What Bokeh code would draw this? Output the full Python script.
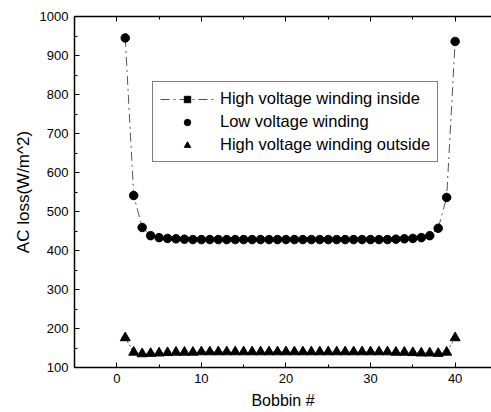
from bokeh.plotting import figure
from bokeh.models import Range1d, LinearAxis, Legend, LegendItem, ColumnDataSource, FixedTicker
from bokeh.embed import file_html
from bokeh.resources import INLINE

bobbin = list(range(1, 41))
hv_inside = [945, 541, 459, 438, 433, 431, 430, 429, 428, 428, 428, 428, 428, 428, 428, 428, 428, 428, 428, 428,
             428, 428, 428, 428, 428, 428, 428, 428, 428, 428, 428, 428, 429, 430, 431, 433, 438, 457, 536, 936]
low_voltage = [945, 541, 459, 438, 433, 431, 430, 429, 428, 428, 428, 428, 428, 428, 428, 428, 428, 428, 428, 428,
               428, 428, 428, 428, 428, 428, 428, 428, 428, 428, 428, 428, 429, 430, 431, 433, 438, 457, 536, 936]
hv_outside = [176, 139, 135, 136, 137, 138, 139, 139, 139, 140, 140, 140, 140, 140, 140, 140, 140, 140, 140, 140,
              140, 140, 140, 140, 140, 140, 140, 140, 140, 140, 140, 140, 139, 139, 138, 137, 137, 136, 139, 176]
x_ticks = [0, 10, 20, 30, 40]
x_minor = [-5, 5, 15, 25, 35, 45]
y_ticks = [100, 200, 300, 400, 500, 600, 700, 800, 900, 1000]
y_minor = [150, 250, 350, 450, 550, 650, 750, 850, 950]

FONT = "Liberation Sans"

p = figure(width=491, height=412, output_backend="svg", toolbar_location=None,
           x_range=Range1d(-5, 44.3), y_range=Range1d(100, 1000),
           min_border_left=74, min_border_right=0, min_border_top=16, min_border_bottom=45)
p.grid.visible = False
p.outline_line_color = None
p.background_fill_color = "white"
p.border_fill_color = "white"

p.xaxis[0].ticker = FixedTicker(ticks=x_ticks, minor_ticks=x_minor)
p.yaxis[0].ticker = FixedTicker(ticks=y_ticks, minor_ticks=y_minor)

for ax in (p.xaxis[0], p.yaxis[0]):
    ax.major_tick_in = 5
    ax.major_tick_out = 0
    ax.minor_tick_in = 3
    ax.minor_tick_out = 0
    ax.axis_line_color = "black"
    ax.axis_line_width = 1.5
    ax.major_tick_line_color = "black"
    ax.minor_tick_line_color = "black"
    ax.major_label_text_font = FONT
    ax.major_label_text_font_size = "13px"
    ax.major_label_text_color = "black"
    ax.axis_label_text_font = FONT
    ax.axis_label_text_font_style = "normal"
    ax.axis_label_text_color = "black"

p.xaxis.axis_label = "Bobbin #"
p.xaxis.axis_label_text_font_size = "16px"
p.xaxis.major_label_standoff = 6
p.xaxis.axis_label_standoff = 6
p.yaxis.axis_label = "AC loss(W/m^2)"
p.yaxis.axis_label_text_font_size = "17px"
p.yaxis.major_label_standoff = 6
p.yaxis.axis_label_standoff = 4

top = LinearAxis(ticker=FixedTicker(ticks=x_ticks, minor_ticks=x_minor))
top.major_tick_in = 5
top.major_tick_out = 0
top.minor_tick_in = 3
top.minor_tick_out = 0
top.major_label_text_font_size = "0px"
top.major_label_text_color = None
top.major_label_standoff = 0
top.axis_line_width = 1.5
top.axis_line_color = "black"
p.add_layout(top, "above")

src = ColumnDataSource(dict(x=bobbin, hvi=hv_inside, lv=low_voltage, hvo=hv_outside))

l1 = p.line("x", "hvi", source=src, line_color="#555555", line_width=1, line_dash="9 4 2 4")
s1 = p.scatter("x", "hvi", source=src, marker="square", size=5.5, color="black")
c1 = p.scatter("x", "lv", source=src, marker="circle", size=8.5, color="black")
l3 = p.line("x", "hvo", source=src, line_color="#555555", line_width=1, line_dash="2 2")
t1 = p.scatter("x", "hvo", source=src, marker="triangle", size=10, color="black")

legend = Legend(items=[
    LegendItem(label="High voltage winding inside", renderers=[l1, s1]),
    LegendItem(label="Low voltage winding", renderers=[c1]),
    LegendItem(label="High voltage winding outside", renderers=[t1]),
], location=(78, 205))
legend.label_text_font = FONT
legend.label_text_font_size = "16.5px"
legend.label_text_color = "black"
legend.glyph_width = 54
legend.glyph_height = 16
legend.label_height = 16
legend.spacing = 4
legend.label_standoff = 6
legend.padding = 7
legend.margin = 0
legend.border_line_color = "black"
legend.border_line_width = 1
legend.background_fill_alpha = 1
p.add_layout(legend, "center")

open("out.html", "w").write(file_html(p, INLINE))
